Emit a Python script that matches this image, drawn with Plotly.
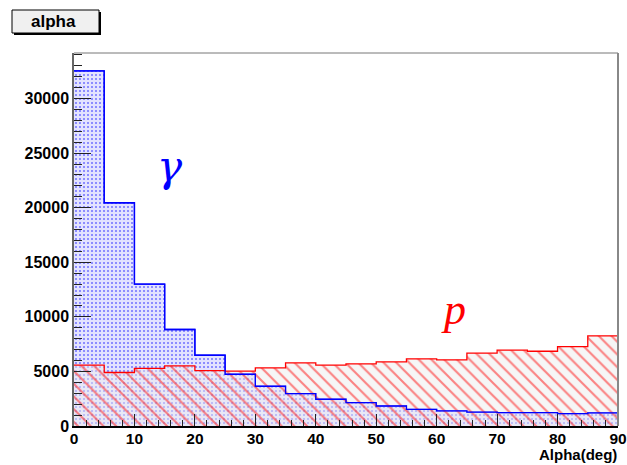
import numpy as np
import plotly.graph_objects as go

# bin edges (deg) and histogram contents
bin_edges = list(range(0, 95, 5))
gamma_counts = [32540, 20450, 13000, 8840, 6480, 4740, 3640, 2970, 2450,
                2150, 1830, 1530, 1380, 1280, 1230, 1220, 1140, 1200]
proton_counts = [5570, 4900, 5270, 5500, 5080, 5020, 5320, 5780, 5570,
                 5690, 5870, 6150, 6060, 6670, 6950, 6850, 7280, 8260]
x_tick_vals = [0, 10, 20, 30, 40, 50, 60, 70, 80, 90]
y_tick_vals = [0, 5000, 10000, 15000, 20000, 25000, 30000]
y_max = 34170


def step_y(vals):
    return list(vals) + [vals[-1]]


FONT = "Liberation Sans, Arial, sans-serif"
SERIF = "DejaVu Serif, Liberation Serif, serif"

fig = go.Figure()

fig.add_trace(go.Scatter(
    x=bin_edges, y=step_y(gamma_counts), mode="lines", line_shape="hv",
    line=dict(color="#0000ff", width=1.3), fill="tozeroy",
    fillpattern=dict(shape=".", fgcolor="#0000ff", bgcolor="rgba(215,215,255,0.7)",
                     size=4, solidity=0.2),
    hoverinfo="skip", showlegend=False))

fig.add_trace(go.Scatter(
    x=bin_edges, y=step_y(proton_counts), mode="lines", line_shape="hv",
    line=dict(color="#ff0000", width=1.3), fill="tozeroy",
    fillpattern=dict(shape="\\", fgcolor="#ff1010", bgcolor="rgba(238,238,238,0.5)",
                     size=9, solidity=0.24),
    hoverinfo="skip", showlegend=False))

fig.add_trace(go.Scatter(
    x=bin_edges, y=step_y(gamma_counts), mode="lines", line_shape="hv",
    line=dict(color="#0000ff", width=1.3),
    hoverinfo="skip", showlegend=False))

fig.update_layout(
    width=627, height=465,
    margin=dict(l=74, r=9, t=53, b=39, autoexpand=False),
    paper_bgcolor="white", plot_bgcolor="white",
    font=dict(family=FONT, color="black"),
    xaxis=dict(range=[0, 90], tickvals=x_tick_vals, ticks="inside", ticklen=12,
               tickcolor="#222", tickwidth=1, ticklabelstandoff=-2,
               minor=dict(dtick=2, ticks="inside", ticklen=6, tickcolor="#222"),
               showgrid=False, zeroline=False, showline=True, linecolor="black",
               linewidth=1.5, tickfont=dict(size=15.5, family=FONT, weight="bold")),
    yaxis=dict(range=[0, y_max], tickvals=y_tick_vals, tickformat="d",
               ticks="inside", ticklen=17, tickcolor="#222", tickwidth=1,
               minor=dict(dtick=1000, ticks="inside", ticklen=8, tickcolor="#222"),
               showgrid=False, zeroline=False, showline=True, linecolor="#666",
               linewidth=1.5, tickfont=dict(size=16, family=FONT, weight="bold")),
)

# frame top / right
fig.add_shape(type="line", xref="paper", yref="paper", x0=0, x1=1, y0=1, y1=1,
              line=dict(color="#777", width=1))
fig.add_shape(type="line", xref="paper", yref="paper", x0=1, x1=1, y0=0, y1=1,
              line=dict(color="#888", width=2))

# title box with shadow
PW, PH = 544, 373
fig.add_shape(type="rect", xref="paper", yref="paper",
              x0=(14 - 74) / PW, x1=(101 - 74) / PW,
              y0=(426 - 35) / PH, y1=(426 - 12) / PH,
              line=dict(width=0), fillcolor="black")
fig.add_shape(type="rect", xref="paper", yref="paper",
              x0=(12 - 74) / PW, x1=(99 - 74) / PW,
              y0=(426 - 33) / PH, y1=(426 - 10) / PH,
              line=dict(color="black", width=1), fillcolor="#f0f0f0")
fig.add_annotation(xref="paper", yref="paper", x=(53 - 74) / PW, y=(426 - 22) / PH,
                   xanchor="center", yanchor="middle",
                   text="<b>alpha</b>", showarrow=False,
                   font=dict(size=17, family=FONT, color="black"))

# axis title
fig.add_annotation(xref="paper", yref="paper", x=1.002, y=(426 - 465) / PH,
                   xanchor="right", yanchor="bottom", text="<b>Alpha(deg)</b>",
                   showarrow=False, font=dict(size=15, family=FONT, color="black"))

# particle labels
fig.add_annotation(x=15.9, y=23800, text="<i>γ</i>", showarrow=False,
                   xanchor="center", yanchor="middle",
                   font=dict(size=42, family=SERIF, color="#0000ff"))
fig.add_annotation(x=62.8, y=10700, text="<i>p</i>", showarrow=False,
                   xanchor="center", yanchor="middle",
                   font=dict(size=44, family="Liberation Serif, serif", color="#ff0000"))

fig.write_html("out.html", config={"displayModeBar": False},
               post_script="document.body.style.margin='0';")
